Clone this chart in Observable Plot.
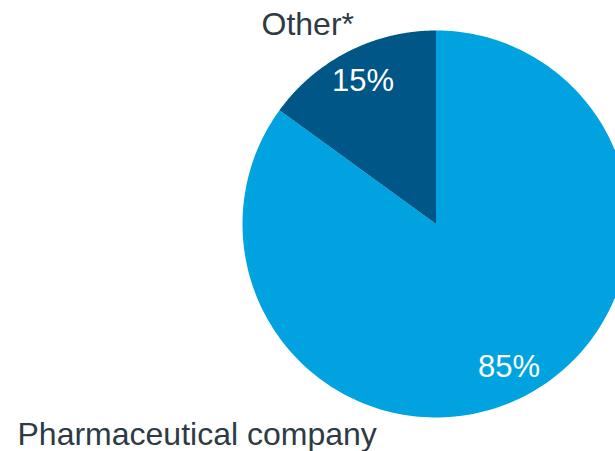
<!DOCTYPE html>
<html>
<head>
<meta charset="utf-8">
<script src="https://cdn.jsdelivr.net/npm/d3@7"></script>
<script src="https://cdn.jsdelivr.net/npm/@observablehq/plot@0.6"></script>
<style>
  html, body { margin: 0; padding: 0; background: #fff; overflow: hidden; }
  #chart svg { display: block; }
</style>
</head>
<body>
<div id="chart"></div>
<script>
const categories = ["Pharmaceutical company", "Other*"];
const values = [85, 15];
const pctLabels = ["85%", "15%"];
const colors = ["#00A3DF", "#005687"];

const W = 615, H = 451;
const cx = 435.5, cy = 223.5, R = 193.5;

const pie = d3.pie().sort(null).value(d => d.value);
const arcs = pie(categories.map((c, i) => ({category: c, value: values[i], label: pctLabels[i]})));

const pts = [];
arcs.forEach(a => {
  pts.push({category: a.data.category, x: cx, y: cy});
  const n = 200;
  for (let k = 0; k <= n; k++) {
    const t = a.startAngle + (a.endAngle - a.startAngle) * k / n;
    pts.push({category: a.data.category, x: cx + R * Math.sin(t), y: cy - R * Math.cos(t)});
  }
  pts.push({category: a.data.category, x: cx, y: cy});
});

const inner = arcs.map(a => {
  const m = (a.startAngle + a.endAngle) / 2;
  return {label: a.data.label, x: cx + 0.83 * R * Math.sin(m), y: cy - 0.83 * R * Math.cos(m)};
});

const outer = [
  {label: categories[1], x: 261, y: 24},
  {label: categories[0], x: 17, y: 434}
];

const chart = Plot.plot({
  width: W, height: H,
  margin: 0,
  x: {domain: [0, W], range: [0, W], axis: null},
  y: {domain: [0, H], range: [0, H], axis: null},
  color: {domain: categories, range: colors},
  style: {fontFamily: "'Liberation Sans', Arial, sans-serif", background: "#fff"},
  marks: [
    Plot.line(pts, {x: "x", y: "y", z: "category", fill: "category", stroke: "none", curve: "linear"}),
    Plot.text(inner, {x: "x", y: "y", text: "label", fill: "white", fontSize: 31}),
    Plot.text(outer, {x: "x", y: "y", text: "label", fill: "#2E3B44", fontSize: 32, textAnchor: "start"})
  ]
});
document.getElementById("chart").appendChild(chart);
</script>
</body>
</html>
